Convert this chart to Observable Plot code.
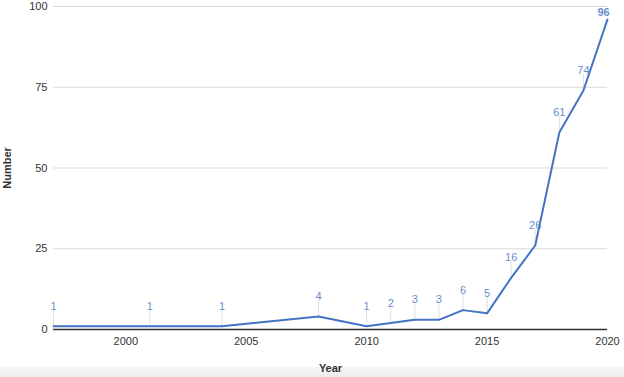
<!DOCTYPE html>
<html>
<head>
<meta charset="utf-8">
<script src="https://cdn.jsdelivr.net/npm/d3@7"></script>
<script src="https://cdn.jsdelivr.net/npm/@observablehq/plot@0.6"></script>
<style>
  html, body { margin: 0; padding: 0; background: #fff; }
  #wrap { position: relative; width: 624px; height: 377px; overflow: hidden; }
  #band { position: absolute; left: 0; right: 0; bottom: 0; height: 10px;
          background: linear-gradient(#f6f6f6, #ececec); }
  #chart { position: absolute; left: 0; top: 0; }
  #chart svg { background: transparent; }
</style>
</head>
<body>
<div id="wrap"><div id="band"></div><div id="chart"></div></div>
<script>
const years  = [1997, 2001, 2004, 2008, 2010, 2011, 2012, 2013, 2014, 2015, 2016, 2017, 2018, 2019, 2020];
const values = [1, 1, 1, 4, 1, 2, 3, 3, 6, 5, 16, 26, 61, 74, 96];
const yTicks = [0, 25, 50, 75, 100];
const xTicks = [2000, 2005, 2010, 2015, 2020];

const data = years.map((y, i) => ({year: y, value: values[i]}));
const last = data.slice(-1);
const rest = data.slice(0, -1);

const leader = {draw(ctx, l) { ctx.moveTo(0, 0); ctx.lineTo(0, -l); }};
const lineColor = "#4472c4";
const labelColor = "#6b8dcd";

const chart = Plot.plot({
  width: 624,
  height: 377,
  marginLeft: 53,
  marginRight: 17,
  marginTop: 6,
  marginBottom: 48,
  style: {fontFamily: "Liberation Sans, Arial, sans-serif", fontSize: "11px", color: "#333", background: "transparent"},
  x: {domain: [1997, 2020], ticks: xTicks, tickFormat: d => String(d), tickSize: 0, tickPadding: 8,
      label: "Year", labelAnchor: "center", labelArrow: "none", labelOffset: 42},
  y: {domain: [0, 100], ticks: yTicks, tickSize: 0, tickPadding: 6,
      label: "Number", labelAnchor: "center", labelArrow: "none", labelOffset: 50},
  marks: [
    Plot.ruleY(yTicks.filter(d => d > 0), {stroke: "#d9d9d9", strokeWidth: 1}),
    Plot.ruleY([0], {stroke: "#333", strokeWidth: 1.5}),
    Plot.vector(rest, {x: "year", y: "value", length: 15, anchor: "start", rotate: 0, dy: -1,
      shape: leader, stroke: "#e0e0e0", strokeWidth: 1}),
    Plot.line(data, {x: "year", y: "value", stroke: lineColor, strokeWidth: 2}),
    Plot.text(rest, {x: "year", y: "value", text: d => String(d.value), dy: -20,
      fill: labelColor, fontSize: 11}),
    Plot.text(last, {x: "year", y: "value", text: d => String(d.value), dy: -7, dx: -4,
      fill: labelColor, fontSize: 11, fontWeight: "bold"})
  ]
});
// bold axis titles
chart.querySelectorAll("[aria-label='x-axis label'] text, [aria-label='y-axis label'] text").forEach(t => {
  t.setAttribute("font-weight", "bold");
});
document.getElementById("chart").appendChild(chart);
</script>
</body>
</html>
